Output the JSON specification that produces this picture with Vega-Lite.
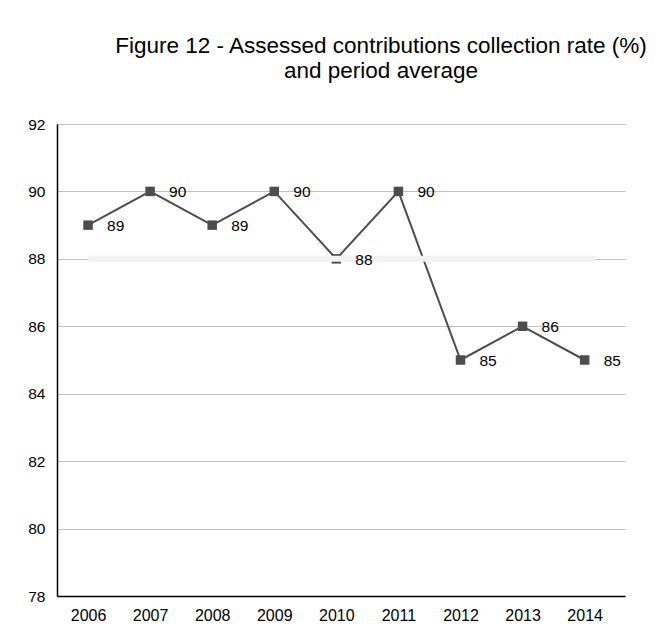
{
  "$schema": "https://vega.github.io/schema/vega-lite/v6.json",
  "width": 568,
  "height": 472,
  "autosize": "none",
  "padding": {"left": 57, "top": 124, "right": 37, "bottom": 37},
  "background": "white",
  "config": {"view": {"stroke": null}, "font": "Liberation Sans"},
  "title": {
    "text": ["Figure 12 - Assessed contributions collection rate (%)", "and period average"],
    "fontSize": 22.5,
    "fontWeight": "normal",
    "font": "Liberation Sans",
    "color": "#000000",
    "lineHeight": 25,
    "anchor": "middle",
    "dx": 40,
    "offset": 35
  },
  "datasets": {
    "rate": [
      {"year": 2006, "rate": 89},
      {"year": 2007, "rate": 90},
      {"year": 2008, "rate": 89},
      {"year": 2009, "rate": 90},
      {"year": 2010, "rate": 88},
      {"year": 2011, "rate": 90},
      {"year": 2012, "rate": 85},
      {"year": 2013, "rate": 86},
      {"year": 2014, "rate": 85}
    ],
    "avg": [
      {"year": 2006, "avg": 88},
      {"year": 2014.17, "avg": 88}
    ]
  },
  "encoding": {
    "x": {
      "field": "year",
      "type": "quantitative",
      "scale": {"domain": [2005.5, 2014.65], "nice": false, "zero": false},
      "axis": {
        "values": [2006, 2007, 2008, 2009, 2010, 2011, 2012, 2013, 2014],
        "format": "d",
        "title": null,
        "grid": false,
        "ticks": false,
        "domainColor": "#000000",
        "domainWidth": 1.5,
        "labelFontSize": 16,
        "labelColor": "#000000",
        "labelPadding": 11,
        "labelFont": "Liberation Sans"
      }
    }
  },
  "layer": [
    {
      "data": {"name": "rate"},
      "mark": {"type": "line", "color": "#4d4d4d", "strokeWidth": 2},
      "encoding": {
        "y": {
          "field": "rate",
          "type": "quantitative",
          "scale": {"domain": [78, 92], "nice": false, "zero": false},
          "axis": {
            "values": [78, 80, 82, 84, 86, 88, 90, 92],
            "title": null,
            "grid": true,
            "gridColor": "#c0c0c0",
            "gridWidth": 1,
            "ticks": false,
            "domainColor": "#000000",
            "domainWidth": 1.5,
            "labelFontSize": 15.5,
            "labelColor": "#000000",
            "labelPadding": 12,
            "labelFont": "Liberation Sans"
          }
        }
      }
    },
    {
      "data": {"name": "rate"},
      "mark": {"type": "point", "shape": "square", "filled": true, "size": 90, "color": "#4d4d4d", "opacity": 1},
      "encoding": {"y": {"field": "rate", "type": "quantitative"}}
    },
    {
      "data": {"name": "avg"},
      "mark": {"type": "line", "color": "#f2f2f2", "strokeWidth": 6, "strokeCap": "butt"},
      "encoding": {"y": {"field": "avg", "type": "quantitative"}}
    },
    {
      "data": {"name": "rate"},
      "mark": {"type": "text", "align": "left", "baseline": "middle", "dx": 19, "dy": 1, "fontSize": 15.5, "color": "#000000", "font": "Liberation Sans"},
      "encoding": {
        "y": {"field": "rate", "type": "quantitative"},
        "text": {"field": "rate", "type": "quantitative"}
      }
    }
  ]
}
